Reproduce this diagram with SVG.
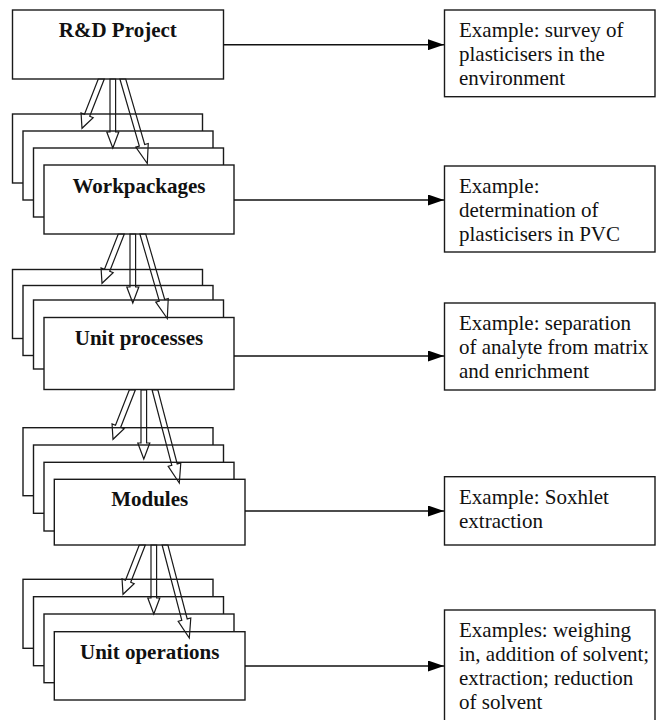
<svg xmlns="http://www.w3.org/2000/svg" xmlns:xlink="http://www.w3.org/1999/xlink" width="656" height="720" viewBox="0 0 656 720">
<style>
.box{fill:#fff;stroke:#1a1a1a;stroke-width:1.4}
.lbl{font-family:"Liberation Serif","Times New Roman",serif;font-size:21px;font-weight:bold;fill:#111;text-anchor:middle}
.ex{font-family:"Liberation Serif","Times New Roman",serif;font-size:21px;fill:#111}
.con{stroke:#111;stroke-width:1.4;fill:none}
.blk{fill:none;stroke:#1a1a1a;stroke-width:1.2;stroke-linejoin:miter}
</style>
<defs>
<marker id="ah" markerWidth="16" markerHeight="11" refX="16" refY="5.5" orient="auto" markerUnits="userSpaceOnUse">
<path d="M0,0 L16,5.5 L0,11 z" fill="#000"/>
</marker>
<g id="fanA">
<polygon class="blk" points="98.3,79 84.5,114.24 81.05,112.89 82,128.3 93.16,117.63 89.71,116.28 104.31,79"/>
<polygon class="blk" points="110,79 110,132 106.8,132 112.8,148 118.8,132 115.6,132 115.6,79"/>
<polygon class="blk" points="119.88,79 139.32,146.03 135.77,147.06 147.3,163.5 148.25,143.44 144.7,144.47 125.72,79"/>
</g>
<g id="fanB">
<polygon class="blk" points="98.3,79 84.5,114.24 81.05,112.89 82,128.3 93.16,117.63 89.71,116.28 104.31,79"/>
<polygon class="blk" points="110,79 110,132 106.8,132 112.8,148 118.8,132 115.6,132 115.6,79"/>
<polygon class="blk" points="121.11,79 140.79,154.33 137.21,155.26 148.3,172 149.79,151.98 146.21,152.91 126.9,79"/>
</g>
</defs>

<g id="rd-project">
<rect class="box" x="12.5" y="10" width="211" height="69"/>
<text class="lbl" x="117.8" y="37">R&amp;D Project</text>
</g>

<g id="workpackages">
<rect class="box" x="12.5" y="114" width="190" height="69"/>
<rect class="box" x="23" y="131" width="190" height="69"/>
<rect class="box" x="33.5" y="148" width="190" height="69"/>
<rect class="box" x="44" y="165" width="190" height="69"/>
<text class="lbl" x="139" y="193">Workpackages</text>
</g>

<g id="unit-processes">
<rect class="box" x="12.5" y="269.5" width="190" height="69"/>
<rect class="box" x="23" y="285.5" width="190" height="70"/>
<rect class="box" x="33.5" y="300" width="190" height="69"/>
<rect class="box" x="44" y="317.5" width="190" height="72"/>
<text class="lbl" x="139" y="345">Unit processes</text>
</g>

<g id="modules">
<rect class="box" x="23" y="427.7" width="190" height="68"/>
<rect class="box" x="33.5" y="445" width="190" height="68.3"/>
<rect class="box" x="44" y="462.3" width="190" height="68.7"/>
<rect class="box" x="54.3" y="479.3" width="190.7" height="65.7"/>
<text class="lbl" x="149.7" y="506">Modules</text>
</g>

<g id="unit-operations">
<rect class="box" x="23" y="579.3" width="190" height="69"/>
<rect class="box" x="33.5" y="596.7" width="190" height="69"/>
<rect class="box" x="44" y="614" width="190" height="68.7"/>
<rect class="box" x="54.3" y="631.7" width="190.7" height="68.3"/>
<text class="lbl" x="149.7" y="659.3">Unit operations</text>
</g>

<g id="example-1">
<rect class="box" x="444.5" y="10" width="210.5" height="86.7"/>
<text class="ex" x="459" y="37">Example: survey of</text>
<text class="ex" x="459" y="61">plasticisers in the</text>
<text class="ex" x="459" y="85">environment</text>
</g>

<g id="example-2">
<rect class="box" x="444.5" y="166" width="210.5" height="86"/>
<text class="ex" x="459" y="193">Example:</text>
<text class="ex" x="459" y="217">determination of</text>
<text class="ex" x="459" y="241">plasticisers in PVC</text>
</g>

<g id="example-3">
<rect class="box" x="444.5" y="303" width="210.5" height="87"/>
<text class="ex" x="459" y="330">Example: separation</text>
<text class="ex" x="459" y="354">of analyte from matrix</text>
<text class="ex" x="459" y="378">and enrichment</text>
</g>

<g id="example-4">
<rect class="box" x="444.5" y="476.7" width="210.5" height="68.3"/>
<text class="ex" x="459" y="503.5">Example: Soxhlet</text>
<text class="ex" x="459" y="527.5">extraction</text>
</g>

<g id="example-5">
<rect class="box" x="444.5" y="610" width="210.5" height="130"/>
<text class="ex" x="459" y="637">Examples: weighing</text>
<text class="ex" x="459" y="661">in, addition of solvent;</text>
<text class="ex" x="459" y="685">extraction; reduction</text>
<text class="ex" x="459" y="709">of solvent</text>
</g>

<g id="connectors">
<line class="con" x1="223.5" y1="44.7" x2="444" y2="44.7" marker-end="url(#ah)"/>
<line class="con" x1="234" y1="200" x2="444" y2="200" marker-end="url(#ah)"/>
<line class="con" x1="234" y1="356" x2="444" y2="356" marker-end="url(#ah)"/>
<line class="con" x1="245" y1="511" x2="444" y2="511" marker-end="url(#ah)"/>
<line class="con" x1="245" y1="666" x2="444" y2="666" marker-end="url(#ah)"/>
<use xlink:href="#fanA"/>
<use xlink:href="#fanA" transform="translate(20,155)"/>
<use xlink:href="#fanB" transform="translate(31,311)"/>
<use xlink:href="#fanB" transform="translate(41,466)"/>
</g>
</svg>
